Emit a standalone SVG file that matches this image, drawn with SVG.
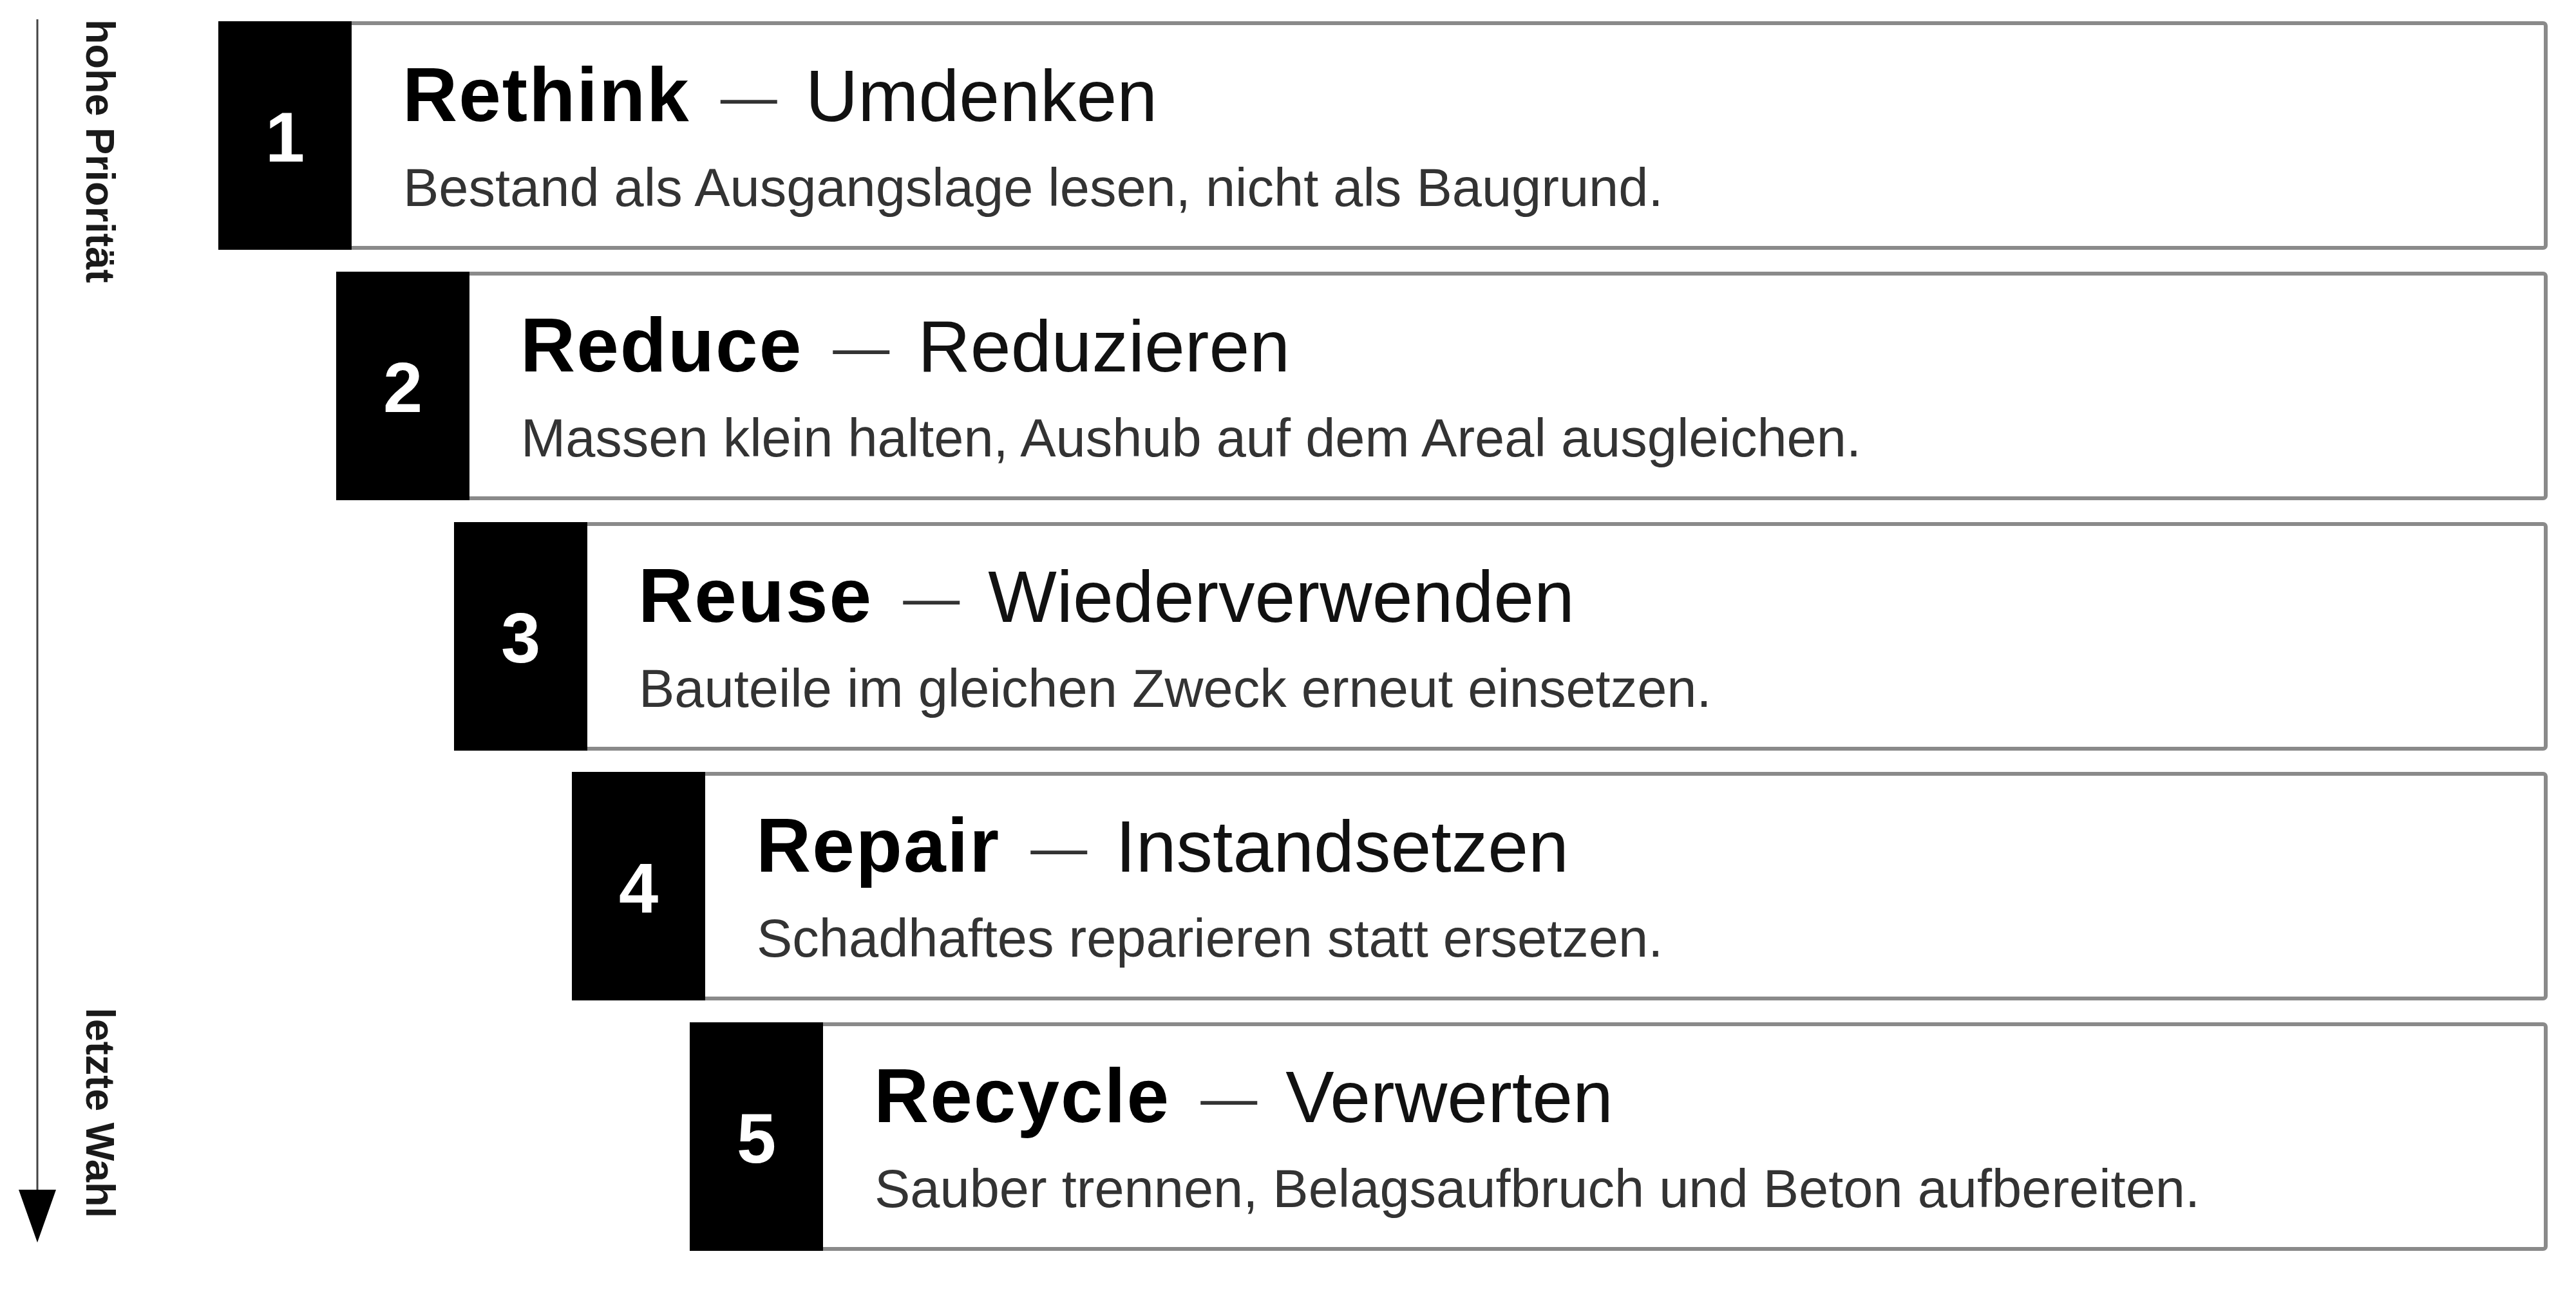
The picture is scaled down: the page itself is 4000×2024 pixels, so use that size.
<svg xmlns="http://www.w3.org/2000/svg" width="4000" height="2024" viewBox="0 0 4000 2024">
<defs>
<style>
.card{fill:#ffffff;stroke:#8a8a8a;stroke-width:6}
.tab{fill:#000000}
.num{font-family:"Liberation Sans",Arial,sans-serif;font-size:110px;font-weight:bold;fill:#ffffff;text-anchor:middle}
.title{font-family:"Liberation Sans",Arial,sans-serif;font-size:113px;fill:#111111}
.title .b{font-size:118px;font-weight:bold;letter-spacing:2px;fill:#000000}
.title .d{font-size:88px;fill:#333333}
.sub{font-family:"Liberation Sans",Arial,sans-serif;font-size:83px;fill:#333333}
.axislabel{font-family:"Liberation Sans",Arial,sans-serif;font-size:63px;font-weight:bold;fill:#1a1a1a}
.axisline{stroke:#444444;stroke-width:3;fill:none}
.axishead{fill:#000000}
</style>
</defs>
<rect x="0" y="0" width="4000" height="2024" fill="#ffffff"/>

<g id="axis">
<line class="axisline" x1="58" y1="30" x2="58" y2="1860"/>
<polygon class="axishead" points="29,1848 87,1848 58,1930"/>
<text class="axislabel" transform="translate(134,30) rotate(90)">hohe Priorität</text>
<text class="axislabel" transform="translate(134,1892) rotate(90)" text-anchor="end">letzte Wahl</text>
</g>

<g id="step1">
<rect class="card" x="342" y="36" width="3611" height="349" rx="4"/>
<rect class="tab" x="339" y="33" width="207" height="355"/>
<text class="num" x="442.5" y="251">1</text>
<text class="title" x="625" y="188"><tspan class="b">Rethink</tspan><tspan class="d" dx="47" dy="-8">—</tspan><tspan dx="44" dy="8">Umdenken</tspan></text>
<text class="sub" x="626" y="320">Bestand als Ausgangslage lesen, nicht als Baugrund.</text>
</g>

<g id="step2">
<rect class="card" x="525" y="425" width="3428" height="349" rx="4"/>
<rect class="tab" x="522" y="422" width="207" height="355"/>
<text class="num" x="625.5" y="640">2</text>
<text class="title" x="808" y="577"><tspan class="b">Reduce</tspan><tspan class="d" dx="47" dy="-8">—</tspan><tspan dx="44" dy="8">Reduzieren</tspan></text>
<text class="sub" x="809" y="709">Massen klein halten, Aushub auf dem Areal ausgleichen.</text>
</g>

<g id="step3">
<rect class="card" x="708" y="814" width="3245" height="349" rx="4"/>
<rect class="tab" x="705" y="811" width="207" height="355"/>
<text class="num" x="808.5" y="1029">3</text>
<text class="title" x="991" y="966"><tspan class="b">Reuse</tspan><tspan class="d" dx="47" dy="-8">—</tspan><tspan dx="44" dy="8">Wiederverwenden</tspan></text>
<text class="sub" x="992" y="1098">Bauteile im gleichen Zweck erneut einsetzen.</text>
</g>

<g id="step4">
<rect class="card" x="891" y="1202" width="3062" height="349" rx="4"/>
<rect class="tab" x="888" y="1199" width="207" height="355"/>
<text class="num" x="991.5" y="1417">4</text>
<text class="title" x="1174" y="1354"><tspan class="b">Repair</tspan><tspan class="d" dx="47" dy="-8">—</tspan><tspan dx="44" dy="8">Instandsetzen</tspan></text>
<text class="sub" x="1175" y="1486">Schadhaftes reparieren statt ersetzen.</text>
</g>

<g id="step5">
<rect class="card" x="1074" y="1591" width="2879" height="349" rx="4"/>
<rect class="tab" x="1071" y="1588" width="207" height="355"/>
<text class="num" x="1174.5" y="1806">5</text>
<text class="title" x="1357" y="1743"><tspan class="b">Recycle</tspan><tspan class="d" dx="47" dy="-8">—</tspan><tspan dx="44" dy="8">Verwerten</tspan></text>
<text class="sub" x="1358" y="1875">Sauber trennen, Belagsaufbruch und Beton aufbereiten.</text>
</g>
</svg>
